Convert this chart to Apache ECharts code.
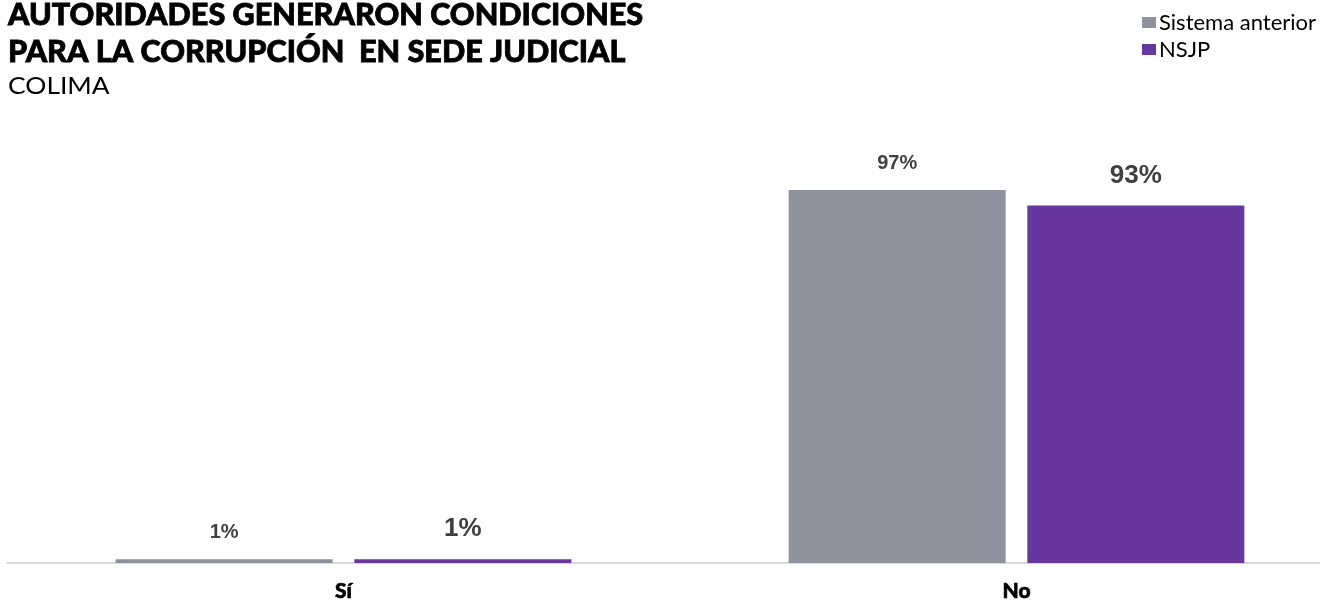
<!DOCTYPE html>
<html><head><meta charset="utf-8">
<script src="https://cdn.jsdelivr.net/npm/echarts@6/dist/echarts.min.js"></script>
<style>html,body{margin:0;padding:0;background:#fff}#c{width:1320px;height:602px}</style>
</head><body><div id="c"></div>
<script>
const categories = ['Sí', 'No'];
const seriesNames = ['Sistema anterior', 'NSJP'];
const sistemaAnterior = [1, 97];
const nsjp = [1, 93];
const titleLines = ['AUTORIDADES GENERARON CONDICIONES', 'PARA LA CORRUPCIÓN  EN SEDE JUDICIAL'];
const subtitle = 'COLIMA';

const chart = echarts.init(document.getElementById('c'), null, {renderer: 'canvas'});
chart.setOption({
  animation: false,
  graphic: [
    {type: 'text', x: 8, y: 15, scaleX: 1.02, style: {text: titleLines[0], fontFamily: 'Lato', fontWeight: 900, fontSize: 30, fill: '#000', stroke: '#000', lineWidth: 0.8, verticalAlign: 'middle'}},
    {type: 'text', x: 8, y: 52, scaleX: 1.02, style: {text: titleLines[1], fontFamily: 'Lato', fontWeight: 900, fontSize: 30, fill: '#000', stroke: '#000', lineWidth: 0.8, verticalAlign: 'middle'}},
    {type: 'text', x: 8, y: 86, scaleX: 1.1, style: {text: subtitle, fontFamily: 'Lato', fontWeight: 400, fontSize: 24, fill: '#000', verticalAlign: 'middle'}}
  ],
  legend: {
    orient: 'vertical', left: 1142, top: 11.5, itemGap: 5, padding: 0,
    itemWidth: 14, itemHeight: 11, icon: 'rect',
    textStyle: {fontFamily: 'Lato', fontSize: 22, color: '#000', padding: [0,0,0,-2]},
    data: seriesNames
  },
  grid: {left: 7, width: 1346, top: 178.5, height: 384.5, outerBoundsMode: 'none'},
  xAxis: {
    type: 'category', data: categories,
    axisLine: {lineStyle: {color: '#d9d9d9', width: 2}},
    axisTick: {show: false},
    axisLabel: {fontFamily: 'Lato', fontWeight: 900, fontSize: 21, color: '#000', margin: 18, textBorderColor: '#000', textBorderWidth: 0.6}
  },
  yAxis: {type: 'value', min: 0, max: 100, show: false, splitLine: {show: false}},
  series: [
    {name: seriesNames[0], type: 'bar', data: sistemaAnterior, barWidth: 217, barGap: '10%',
     itemStyle: {color: '#8e929e'},
     label: {show: true, position: 'top', distance: 17, formatter: '{c}%', fontFamily: 'Liberation Sans', fontWeight: 'bold', fontSize: 20, color: '#404040'}},
    {name: seriesNames[1], type: 'bar', data: nsjp, barWidth: 217,
     itemStyle: {color: '#67379e'},
     label: {show: true, position: 'top', distance: 17, formatter: '{c}%', fontFamily: 'Liberation Sans', fontWeight: 'bold', fontSize: 26, color: '#404040'}}
  ]
});
</script></body></html>
